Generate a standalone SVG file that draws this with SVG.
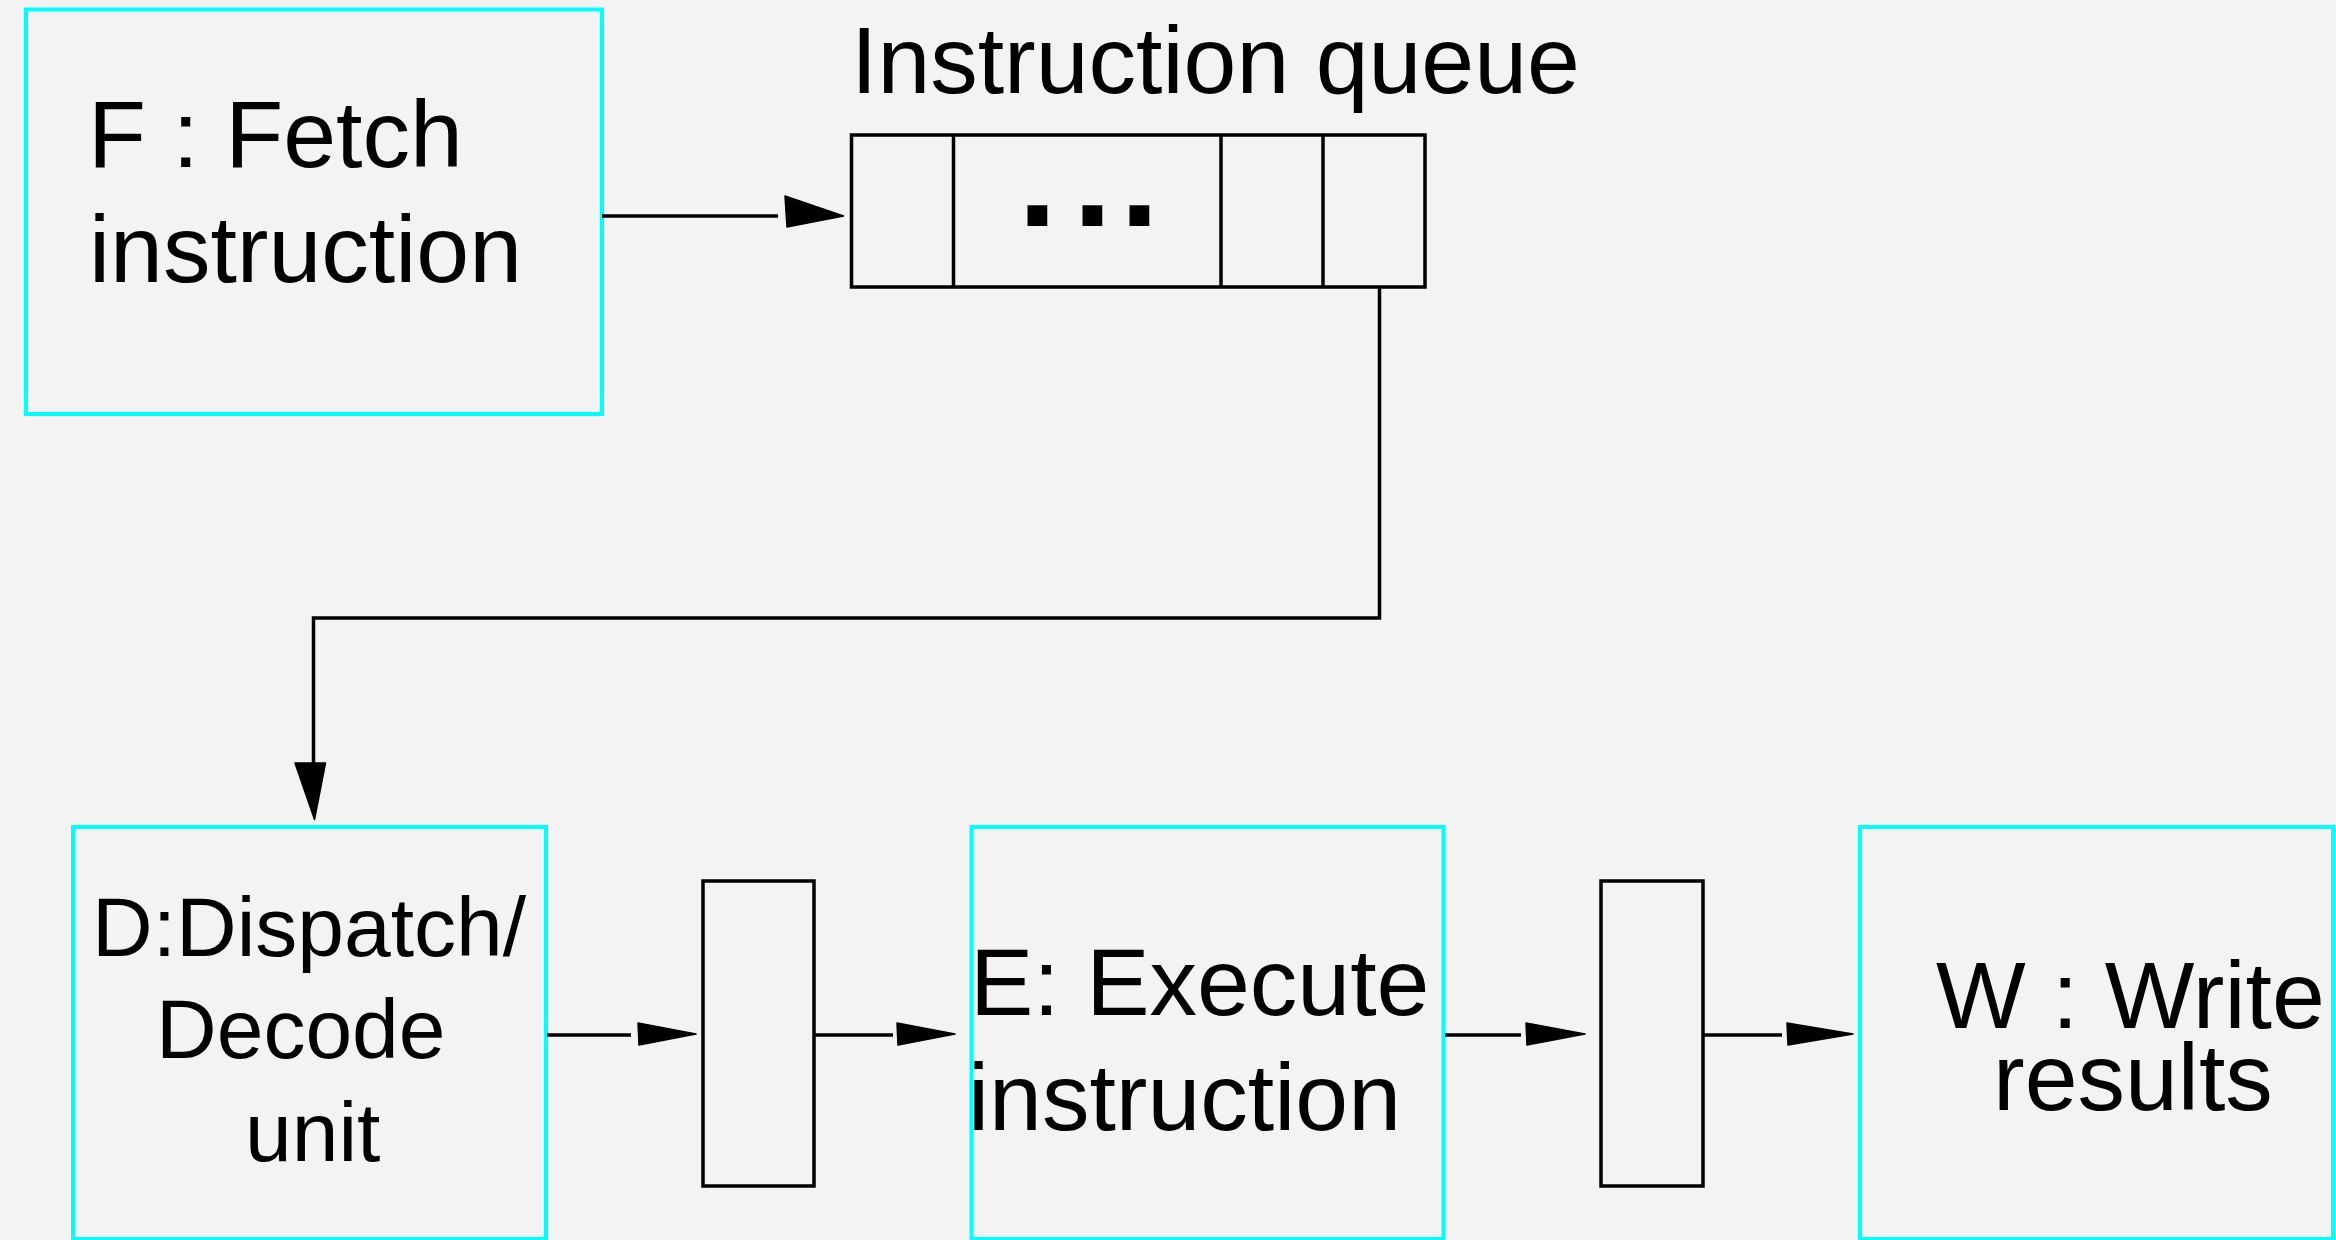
<svg xmlns="http://www.w3.org/2000/svg" width="2336" height="1240" viewBox="0 0 2336 1240">
  <style>
    .stage { fill: none; stroke: #00ffff; stroke-width: 4; }
    .cell { fill: none; stroke: #000000; stroke-width: 3.5; }
    .wire { fill: none; stroke: #000000; stroke-width: 3.5; stroke-linejoin: miter; }
    .head { fill: #000000; stroke: #000000; stroke-width: 1.5; stroke-linejoin: round; }
    .label { font-family: "Liberation Sans", Arial, sans-serif; font-size: 95px; fill: #000000; }
    .small { font-size: 84px; }
    .dots { font-family: "Liberation Sans", Arial, sans-serif; font-size: 140px; font-weight: bold; fill: #000000; }
  </style>

  <rect x="0" y="0" width="2336" height="1240" fill="#f3f3f3"/>

  <!-- Fetch stage -->
  <g id="fetch">
    <rect class="stage" x="26" y="9.5" width="576" height="404.5"/>
    <text class="label" x="88" y="167">F : Fetch</text>
    <text class="label" x="89" y="282">instruction</text>
  </g>

  <!-- Instruction queue -->
  <g id="queue">
    <text class="label" x="851" y="93">Instruction queue</text>
    <rect class="cell" x="851.5" y="135" width="573.5" height="152"/>
    <line class="cell" x1="953.5" y1="135" x2="953.5" y2="287"/>
    <line class="cell" x1="1221" y1="135" x2="1221" y2="287"/>
    <line class="cell" x1="1323" y1="135" x2="1323" y2="287"/>
    <text class="dots" x="1018 1073 1120" y="225.5">...</text>
  </g>

  <!-- Dispatch / decode stage -->
  <g id="dispatch">
    <rect class="stage" x="73" y="827" width="473" height="412"/>
    <text class="label small" x="92" y="956">D:Dispatch/</text>
    <text class="label small" x="156" y="1058">Decode</text>
    <text class="label small" x="245" y="1161">unit</text>
  </g>

  <!-- Pipeline register between D and E -->
  <g id="reg1">
    <rect class="cell" x="703" y="881" width="111" height="305"/>
  </g>

  <!-- Execute stage -->
  <g id="execute">
    <rect class="stage" x="971.5" y="827" width="472" height="412"/>
    <text class="label" x="970" y="1015">E: Execute</text>
    <text class="label" x="968" y="1130">instruction</text>
  </g>

  <!-- Pipeline register between E and W -->
  <g id="reg2">
    <rect class="cell" x="1601" y="881" width="102" height="305"/>
  </g>

  <!-- Write-back stage -->
  <g id="write">
    <rect class="stage" x="1860" y="827" width="473" height="412"/>
    <text class="label" x="1936" y="1028">W : Write</text>
    <text class="label" x="1993" y="1110">results</text>
  </g>

  <!-- Connectors -->
  <g id="connectors">
    <line class="wire" x1="602" y1="216" x2="778" y2="216"/>
    <polygon class="head" points="785,196 843.5,216 787,227"/>

    <path class="wire" d="M1379.5,287 V618 H313.5 V763"/>
    <polygon class="head" points="295,763 325.5,763 314.5,819.5"/>

    <line class="wire" x1="547" y1="1035" x2="631" y2="1035"/>
    <polygon class="head" points="638,1023 696,1034 639,1045"/>

    <line class="wire" x1="814" y1="1035" x2="893" y2="1035"/>
    <polygon class="head" points="897,1023 955,1034 898,1045"/>

    <line class="wire" x1="1445" y1="1035" x2="1521" y2="1035"/>
    <polygon class="head" points="1526,1023 1585,1034 1527,1045"/>

    <line class="wire" x1="1703" y1="1035" x2="1782" y2="1035"/>
    <polygon class="head" points="1787,1023 1853,1034 1788,1045"/>
  </g>
</svg>
